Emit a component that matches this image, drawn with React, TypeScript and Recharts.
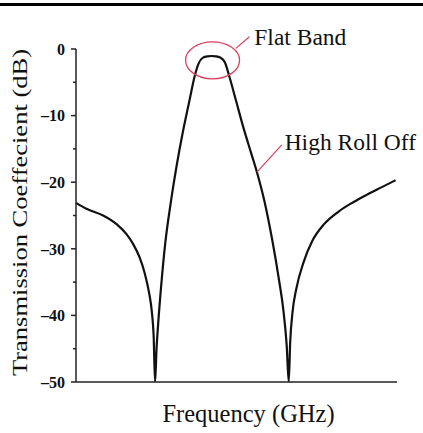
import React from "react"
import {
  LineChart,
  Line,
  XAxis,
  YAxis,
  Label,
  ReferenceDot,
  ReferenceLine,
} from "recharts"

// frequency in tick units (axis has no numeric labels), S21 in dB
const freq = [
  0, 0.36, 0.93, 1.39, 1.73, 1.96, 2.18, 2.35, 2.5, 2.6, 2.66, 2.71,
  2.76, 2.82, 2.92, 3.05, 3.26, 3.45, 3.66, 3.89, 4.06, 4.2, 4.35, 4.5, 4.65,
  4.8, 4.95, 5.1, 5.26, 5.48, 5.75, 6.0, 6.22, 6.45, 6.73, 6.95, 7.1, 7.22, 7.29,
  7.34, 7.42, 7.55, 7.8, 8.1, 8.5, 9.0, 9.5, 10.0, 10.5, 10.95,
]
const s21 = [
  -23.1, -24.0, -25.0, -26.3, -27.8, -29.3, -31.3, -33.6, -36.5, -39.5, -43, -50,
  -45, -41, -35.5, -29.5, -22.7, -17.5, -12.5, -7.7, -4.2, -2.2, -1.3, -1.1, -1.05,
  -1.1, -1.3, -2.0, -4.2, -7.7, -12.0, -15.6, -18.8, -22.7, -28.8, -34.5, -39, -44.5, -50,
  -44, -39.5, -36, -32, -28.8, -26.3, -24.4, -23, -21.8, -20.7, -19.7,
]
const xTicks = [0, 1, 2, 3, 4, 5, 6, 7, 8, 9, 10]
const yTicks = [-50, -45, -40, -35, -30, -25, -20, -15, -10, -5, 0]

const data = freq.map((f, i) => ({ f, s21: s21[i] }))

const SERIF = "'Times New Roman', 'Liberation Serif', serif"
const RED = "#d8405e"
const AXIS = "#222"

function YTick(props: any) {
  const { x, y, payload } = props
  const v = payload.value as number
  const major = v % 10 === 0
  return (
    <g>
      <line x1={x - (major ? 5 : 3)} x2={x} y1={y} y2={y} stroke={AXIS} strokeWidth={1.5} />
      {major && (
        <text x={x - 11} y={y} dy="0.36em" textAnchor="end" style={{ fontFamily: SERIF, fontWeight: "bold", fontSize: 16 }} fill="#111">
          {v < 0 ? "\u2013" + Math.abs(v) : String(v)}
        </text>
      )}
    </g>
  )
}

function YTitle(props: any) {
  const vb = props.viewBox || { x: 0, y: 49, width: 76, height: 333 }
  const cx = vb.x + 27
  const cy = vb.y + vb.height / 2 - 3
  return (
    <text
      x={cx}
      y={cy}
      transform={`rotate(-90 ${cx} ${cy})`}
      textAnchor="middle"
      style={{ fontFamily: SERIF, fontSize: 21 }}
      textLength={327}
      lengthAdjust="spacingAndGlyphs"
      fill="#111"
    >
      Transmission Coeffecient (dB)
    </text>
  )
}

function XTitle(props: any) {
  const vb = props.viewBox || { x: 76, y: 382, width: 321, height: 51 }
  return (
    <text x={vb.x + vb.width / 2 + 12} y={vb.y + 40} textAnchor="middle" style={{ fontFamily: SERIF, fontSize: 24.5 }} fill="#111">
      Frequency (GHz)
    </text>
  )
}

function Ellipse(props: any) {
  return <ellipse cx={props.cx} cy={props.cy} rx={27} ry={18.5} fill="none" stroke={RED} strokeWidth={1.3} />
}

function note(text: string) {
  return (props: any) => (
    <text x={props.cx} y={props.cy} style={{ fontFamily: SERIF, fontSize: 23.5 }} fill="#111">
      {text}
    </text>
  )
}

export default function App() {
  return (
    <div style={{ position: "fixed", left: 0, top: 0, width: 423, height: 433, background: "#fff" }}>
      <div style={{ position: "absolute", left: 0, top: 3, width: 423, height: 3, background: "#000" }} />
      <LineChart width={423} height={433} data={data} margin={{ top: 49, right: 26, left: 0, bottom: 0 }}>
        <XAxis
          type="number"
          dataKey="f"
          domain={[0, 11]}
          ticks={xTicks}
          tick={false}
          tickSize={5}
          height={51}
          stroke={AXIS}
          strokeWidth={1.5}
        >
          <Label content={XTitle} />
        </XAxis>
        <YAxis
          type="number"
          domain={[-50, 0]}
          ticks={yTicks}
          allowDataOverflow
          tickLine={false}
          tickSize={0}
          tickMargin={0}
          tick={YTick}
          width={76}
          stroke={AXIS}
          strokeWidth={1.5}
        >
          <Label content={YTitle} />
        </YAxis>
        <Line
          type="monotone"
          dataKey="s21"
          stroke="#111"
          strokeWidth={2.2}
          dot={false}
          isAnimationActive={false}
        />
        <ReferenceDot x={4.68} y={-1.7} r={0} ifOverflow="visible" shape={Ellipse} />
        <ReferenceLine
          segment={[{ x: 5.48, y: 0.1 }, { x: 5.94, y: 1.85 }]}
          stroke={RED}
          strokeWidth={1.2}
          ifOverflow="visible"
        />
        <ReferenceLine
          segment={[{ x: 6.2, y: -18.5 }, { x: 7.05, y: -14.4 }]}
          stroke={RED}
          strokeWidth={1.2}
          ifOverflow="visible"
        />
        <ReferenceDot x={6.11} y={0.6} r={0} ifOverflow="visible" shape={note("Flat Band")} />
        <ReferenceDot x={7.15} y={-15.2} r={0} ifOverflow="visible" shape={note("High Roll Off")} />
      </LineChart>
    </div>
  )
}
